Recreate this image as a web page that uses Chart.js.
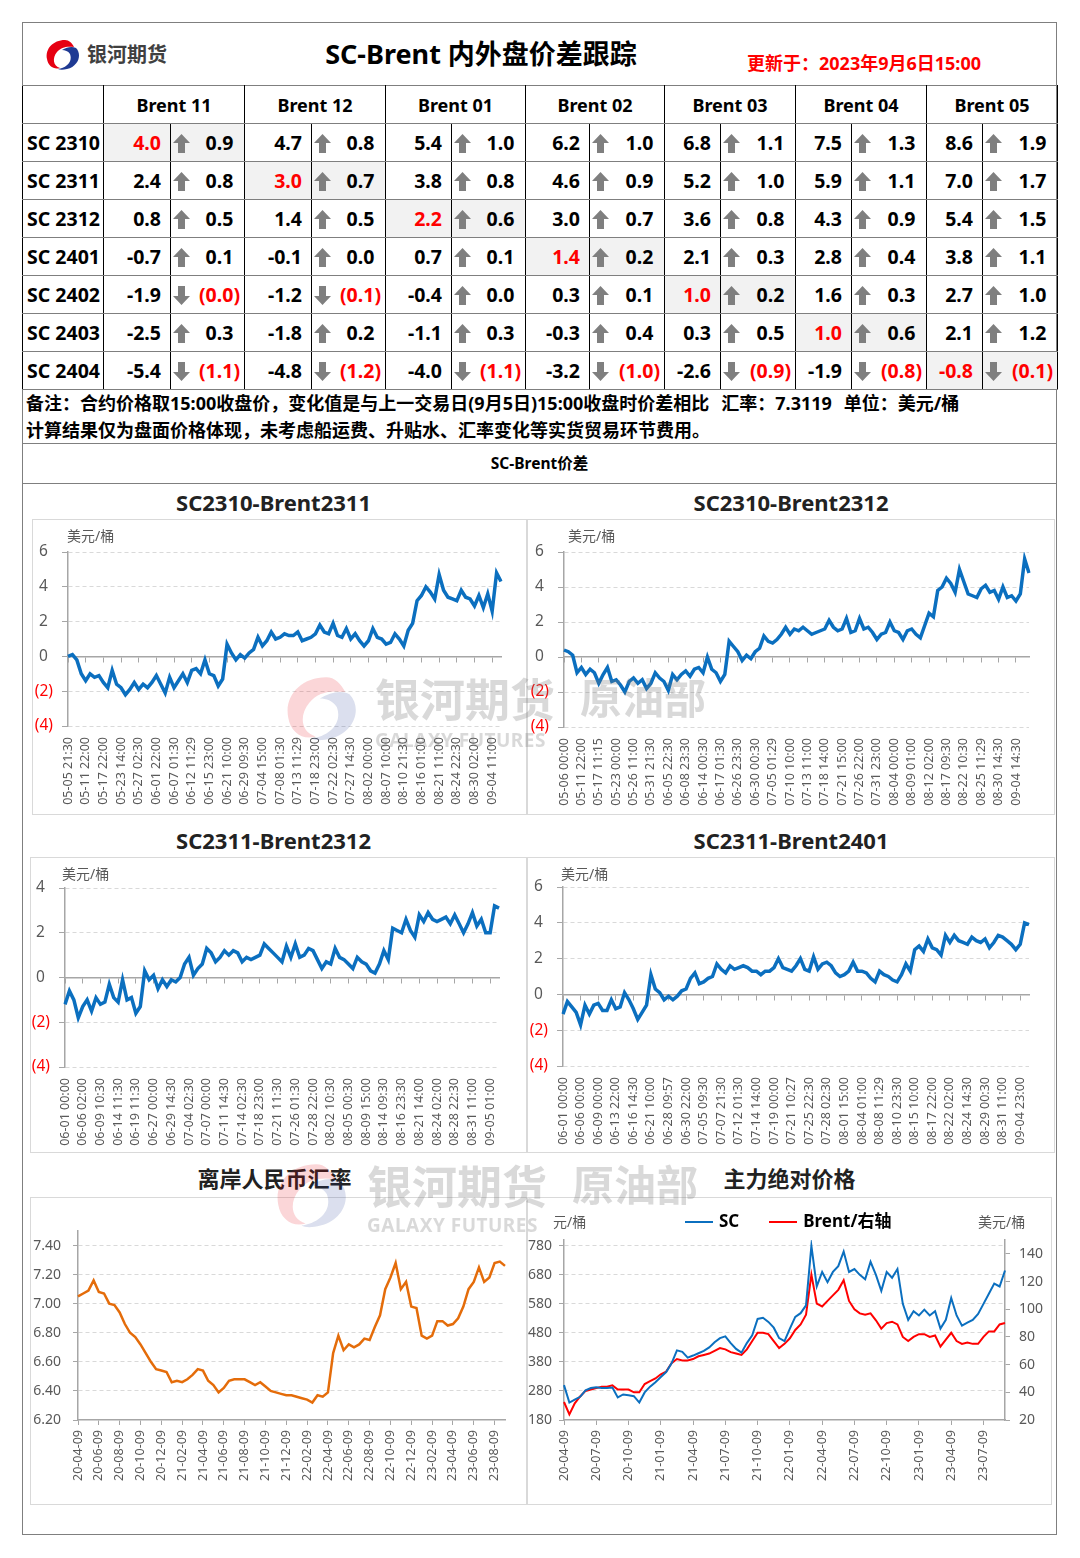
<!DOCTYPE html>
<html lang="zh-CN">
<head>
<meta charset="UTF-8">
<title>SC-Brent 内外盘价差跟踪</title>
<script src="https://cdn.jsdelivr.net/npm/chart.js"></script>
<style>
  body { margin: 0; background: #fff; font-family: "Noto Sans", "Noto Sans CJK SC", sans-serif; }
  #page { position: relative; width: 1080px; height: 1558px; }
  .abs { position: absolute; }
  .frame { left: 22px; top: 22px; width: 1035px; height: 1513px; border: 1px solid #7f7f7f; box-sizing: border-box; }
  .brand { font-size: 20px; font-weight: 700; color: #404040; line-height: 30px; }
  .title { font-size: 27px; font-weight: 700; color: #000; line-height: 36px; text-align: center; }
  .update { font-size: 18px; font-weight: 700; color: #ff0000; line-height: 24px; }
  #grid { border-collapse: collapse; table-layout: fixed; width: 1035px; font-size: 19.5px; font-weight: 700; color: #000; }
  #grid th { font-size: 18px; }
  #grid th, #grid td { height: 38px; padding: 0; border-top: 1px solid #7f7f7f; border-bottom: 1px solid #7f7f7f;
                       border-left: 1px solid #000; border-right: 1px solid #000; box-sizing: border-box; }
  #grid td.rh { text-align: left; padding-left: 4px; }
  #grid td.v { text-align: right; padding-right: 9px; }
  #grid td.c { position: relative; text-align: right; padding-right: 4px; }
  #grid td.c svg { position: absolute; left: 2px; top: 10px; }
  #grid .hl { background: #f2f2f2; }
  #grid .red { color: #ff0000; }
  #grid i { font-style: normal; visibility: hidden; }
  .notes { left: 22px; top: 390px; width: 1035px; height: 53px; box-sizing: border-box; padding-left: 4px;
           font-size: 18px; font-weight: 700; line-height: 27px; color: #000; }
  .notes .gap { display: inline-block; width: 12px; }
  .sub { left: 22px; top: 443px; width: 1035px; height: 41px; box-sizing: border-box; border-top: 1px solid #7f7f7f;
         border-bottom: 1px solid #7f7f7f; text-align: center; font-size: 15.5px; font-weight: 700; line-height: 38px; }
  .ctitle { font-size: 22px; font-weight: 700; color: #222; text-align: center; line-height: 24px; }
  .box { border: 1px solid #d9d9d9; box-sizing: border-box; }
  .unit { font-size: 14px; color: #595959; line-height: 16px; }
  .legend { left: 685px; top: 1210px; font-size: 17px; font-weight: 700; line-height: 22px; white-space: nowrap; }
  .legend span { display: inline-block; margin-right: 30px; }
  .legend b { display: inline-block; width: 28px; height: 2px; vertical-align: middle; margin-right: 6px; }
  .wm { position: absolute; z-index: 5; pointer-events: none; color: rgba(120,120,120,0.28); font-weight: 700; line-height: 1; }
</style>
</head>
<body>
<div id="page">
  <div class="abs frame"></div>

  <svg class="abs" style="left:45px;top:39px" width="36" height="32" viewBox="0 0 36 32">
    <path d="M20 1 C8 1 0 10 2 20 C3 27 9 31 15 29 C8 27 7 19 12 13 C16 8 22 7 29 8 C27 4 24 1 20 1 Z" fill="#e60012"/>
    <path d="M31 9 C37 15 34 27 22 30 C18 31 15 31 13 30 C21 29 28 23 25 15 C23 12 20 11 17 11 C22 8 27 7 31 9 Z" fill="#1f3a93"/>
  </svg>
  <div class="abs brand" style="left:87px;top:40px">银河期货</div>
  <div class="abs title" style="left:0;width:962px;top:36px">SC-Brent 内外盘价差跟踪</div>
  <div class="abs update" style="left:747px;top:51px">更新于：2023年9月6日15:00</div>

  <table id="grid" class="abs" style="left:22px;top:85px">
    <colgroup>
      <col style="width:81px">
      <col style="width:67px"><col style="width:74px">
      <col style="width:67px"><col style="width:74px">
      <col style="width:66px"><col style="width:74px">
      <col style="width:64px"><col style="width:75px">
      <col style="width:56px"><col style="width:75px">
      <col style="width:56px"><col style="width:75px">
      <col style="width:56px"><col style="width:75px">
    </colgroup>
    <tbody id="gridBody"></tbody>
  </table>

  <div class="abs notes">备注：合约价格取15:00收盘价，变化值是与上一交易日(9月5日)15:00收盘时价差相比<span class="gap"></span>汇率：7.3119<span class="gap"></span>单位：美元/桶<br>计算结果仅为盘面价格体现，未考虑船运费、升贴水、汇率变化等实货贸易环节费用。</div>
  <div class="abs sub">SC-Brent价差</div>

  <div class="abs ctitle" style="left:26px;width:495px;top:490px">SC2310-Brent2311</div>
  <div class="abs ctitle" style="left:527px;width:528px;top:490px">SC2310-Brent2312</div>
  <div class="abs ctitle" style="left:26px;width:495px;top:828px">SC2311-Brent2312</div>
  <div class="abs ctitle" style="left:527px;width:528px;top:828px">SC2311-Brent2401</div>
  <div class="abs ctitle" style="left:27px;width:495px;top:1166px">离岸人民币汇率</div>
  <div class="abs ctitle" style="left:527px;width:525px;top:1166px">主力绝对价格</div>

  <div class="abs box" style="left:32px;top:519px;width:495px;height:296px"></div>
  <div class="abs box" style="left:527px;top:519px;width:528px;height:296px"></div>
  <div class="abs box" style="left:30px;top:857px;width:497px;height:296px"></div>
  <div class="abs box" style="left:527px;top:857px;width:528px;height:296px"></div>
  <div class="abs box" style="left:30px;top:1197px;width:497px;height:308px"></div>
  <div class="abs box" style="left:527px;top:1197px;width:525px;height:308px"></div>

  <div class="abs" style="left:32px;top:519px;width:495px;height:296px"><canvas id="c1"></canvas></div>
  <div class="abs" style="left:527px;top:519px;width:528px;height:296px"><canvas id="c2"></canvas></div>
  <div class="abs" style="left:30px;top:857px;width:495px;height:296px"><canvas id="c3"></canvas></div>
  <div class="abs" style="left:527px;top:857px;width:528px;height:296px"><canvas id="c4"></canvas></div>
  <div class="abs" style="left:30px;top:1197px;width:495px;height:308px"><canvas id="c5"></canvas></div>
  <div class="abs" style="left:527px;top:1197px;width:525px;height:308px"><canvas id="c6"></canvas></div>

  <div class="abs unit" style="left:67px;top:528px">美元/桶</div>
  <div class="abs unit" style="left:568px;top:528px">美元/桶</div>
  <div class="abs unit" style="left:62px;top:866px">美元/桶</div>
  <div class="abs unit" style="left:561px;top:866px">美元/桶</div>
  <div class="abs unit" style="left:553px;top:1214px">元/桶</div>
  <div class="abs unit" style="left:978px;top:1214px">美元/桶</div>
  <div class="abs legend" id="lg6"></div>

  <!-- watermarks -->
  <svg class="wm" style="left:284px;top:668px;opacity:0.16" width="76" height="82" viewBox="0 0 36 32">
    <path d="M20 1 C8 1 0 10 2 20 C3 27 9 31 15 29 C8 27 7 19 12 13 C16 8 22 7 29 8 C27 4 24 1 20 1 Z" fill="#e60012"/>
    <path d="M31 9 C37 15 34 27 22 30 C18 31 15 31 13 30 C21 29 28 23 25 15 C23 12 20 11 17 11 C22 8 27 7 31 9 Z" fill="#1f3a93"/>
  </svg>
  <div class="wm" style="left:375px;top:677px;font-size:45px">银河期货</div>
  <div class="wm" style="left:580px;top:677px;font-size:42px">原油部</div>
  <div class="wm" style="left:375px;top:731px;font-size:19px;letter-spacing:0.5px">GALAXY FUTURES</div>
  <svg class="wm" style="left:274px;top:1156px;opacity:0.16" width="76" height="80" viewBox="0 0 36 32">
    <path d="M20 1 C8 1 0 10 2 20 C3 27 9 31 15 29 C8 27 7 19 12 13 C16 8 22 7 29 8 C27 4 24 1 20 1 Z" fill="#e60012"/>
    <path d="M31 9 C37 15 34 27 22 30 C18 31 15 31 13 30 C21 29 28 23 25 15 C23 12 20 11 17 11 C22 8 27 7 31 9 Z" fill="#1f3a93"/>
  </svg>
  <div class="wm" style="left:367px;top:1164px;font-size:45px">银河期货</div>
  <div class="wm" style="left:572px;top:1164px;font-size:42px">原油部</div>
  <div class="wm" style="left:367px;top:1216px;font-size:19px;letter-spacing:0.5px">GALAXY FUTURES</div>
</div>

<script>
// ---- table data ----
const scRows = ['SC 2310', 'SC 2311', 'SC 2312', 'SC 2401', 'SC 2402', 'SC 2403', 'SC 2404'];
const brentCols = ['Brent 11', 'Brent 12', 'Brent 01', 'Brent 02', 'Brent 03', 'Brent 04', 'Brent 05'];
const spreadTable = [
  [4.0, 4.7, 5.4, 6.2, 6.8, 7.5, 8.6],
  [2.4, 3.0, 3.8, 4.6, 5.2, 5.9, 7.0],
  [0.8, 1.4, 2.2, 3.0, 3.6, 4.3, 5.4],
  [-0.7, -0.1, 0.7, 1.4, 2.1, 2.8, 3.8],
  [-1.9, -1.2, -0.4, 0.3, 1.0, 1.6, 2.7],
  [-2.5, -1.8, -1.1, -0.3, 0.3, 1.0, 2.1],
  [-5.4, -4.8, -4.0, -3.2, -2.6, -1.9, -0.8]
];
const changeTable = [
  [0.9, 0.8, 1.0, 1.0, 1.1, 1.3, 1.9],
  [0.8, 0.7, 0.8, 0.9, 1.0, 1.1, 1.7],
  [0.5, 0.5, 0.6, 0.7, 0.8, 0.9, 1.5],
  [0.1, 0.0, 0.1, 0.2, 0.3, 0.4, 1.1],
  [-0.0, -0.1, 0.0, 0.1, 0.2, 0.3, 1.0],
  [0.3, 0.2, 0.3, 0.4, 0.5, 0.6, 1.2],
  [-1.1, -1.2, -1.1, -1.0, -0.9, -0.8, -0.1]
];

// ---- spread charts ----
const spread1Cats = ['05-05 21:30', '05-11 22:00', '05-17 22:00', '05-23 14:00', '05-27 02:30', '06-01 22:00', '06-07 01:30',
  '06-12 11:29', '06-15 23:00', '06-21 10:00', '06-29 09:30', '07-04 15:00', '07-08 01:30', '07-13 11:29', '07-18 23:00',
  '07-22 02:30', '07-27 14:30', '08-02 00:00', '08-07 10:00', '08-10 21:30', '08-16 01:00', '08-21 11:00', '08-24 22:30',
  '08-30 02:00', '09-04 11:00'];
const spread1Vals = [0.0, 0.1, -0.2, -1.0, -1.4, -1.0, -1.2, -1.1, -1.5, -1.8,
  -0.8, -1.6, -1.8, -2.2, -1.9, -1.5, -1.9, -1.6, -1.8, -1.5,
  -1.1, -1.6, -2.1, -1.2, -1.8, -1.4, -1.0, -1.5, -0.8, -0.7,
  -1.0, -0.2, -1.0, -1.1, -1.7, -1.3, 0.7, 0.2, -0.2, 0.1,
  -0.1, 0.2, 0.4, 1.1, 0.6, 0.9, 1.4, 1.0, 1.1, 1.3,
  1.2, 1.2, 1.4, 0.9, 1.0, 1.1, 1.3, 1.8, 1.4, 1.3,
  1.9, 1.2, 1.1, 1.6, 1.0, 1.3, 0.9, 0.6, 0.9, 1.6,
  1.1, 1.0, 0.7, 0.8, 1.3, 1.0, 0.6, 1.5, 1.9, 3.2,
  3.5, 4.0, 3.7, 3.3, 4.7, 3.8, 3.4, 3.3, 3.2, 3.8,
  3.4, 3.3, 2.9, 3.5, 2.8, 3.6, 2.6, 4.8, 4.3];

const spread2Cats = ['05-06 00:00', '05-11 22:00', '05-17 11:15', '05-23 00:00', '05-26 11:00', '05-31 21:30', '06-05 22:30',
  '06-08 23:30', '06-14 00:30', '06-17 01:30', '06-26 23:30', '06-30 00:30', '07-05 01:29', '07-10 10:00', '07-13 11:00',
  '07-18 14:00', '07-21 15:00', '07-26 22:00', '07-31 23:00', '08-04 00:00', '08-09 01:00', '08-12 02:00', '08-17 09:30',
  '08-22 10:30', '08-25 11:29', '08-30 14:30', '09-04 14:30'];
const spread2Vals = [0.4, 0.3, 0.1, -0.9, -0.6, -1.0, -0.7, -0.9, -1.5, -1.0,
  -0.6, -1.4, -1.3, -1.6, -2.0, -1.4, -1.2, -1.5, -1.3, -1.8,
  -1.5, -0.9, -1.2, -1.4, -1.9, -1.0, -1.3, -1.0, -0.8, -1.1,
  -0.7, -0.6, -0.9, 0.0, -0.7, -0.9, -1.4, -1.0, 0.9, 0.6,
  0.3, -0.2, 0.1, -0.1, 0.3, 0.5, 1.2, 0.9, 0.8, 1.0,
  1.3, 1.7, 1.3, 1.6, 1.5, 1.7, 1.5, 1.3, 1.4, 1.5,
  1.6, 2.1, 1.7, 1.5, 1.6, 2.2, 1.4, 1.5, 2.2, 1.6,
  1.7, 1.4, 1.0, 1.3, 1.4, 2.0, 1.5, 1.4, 1.0, 1.5,
  1.6, 1.3, 1.1, 1.8, 2.5, 2.3, 3.8, 4.0, 4.5, 4.2,
  3.7, 5.0, 4.3, 3.6, 3.5, 3.4, 3.9, 4.1, 3.7, 3.8,
  3.3, 4.0, 3.4, 3.5, 3.2, 3.6, 5.6, 4.8];

const spread3Cats = ['06-01 00:00', '06-06 02:00', '06-09 10:30', '06-14 11:30', '06-19 11:30', '06-27 00:00', '06-29 14:30',
  '07-04 02:30', '07-07 00:00', '07-11 14:30', '07-14 02:30', '07-18 23:00', '07-21 11:30', '07-26 01:30', '07-28 22:00',
  '08-02 10:30', '08-05 00:30', '08-09 15:00', '08-14 09:30', '08-16 23:30', '08-21 14:00', '08-24 02:00', '08-28 22:30',
  '08-31 11:00', '09-05 01:00'];
const spread3Vals = [-1.2, -0.6, -1.0, -1.8, -1.3, -1.0, -1.5, -0.9, -1.2, -1.1,
  -0.3, -0.9, -1.1, -0.1, -1.0, -0.9, -1.6, -1.3, 0.3, -0.1,
  0.1, -0.5, -0.1, -0.4, -0.1, -0.2, 0.0, 0.6, 0.9, 0.1,
  0.4, 0.6, 1.3, 1.1, 0.7, 0.9, 1.2, 1.0, 1.2, 1.1,
  0.7, 0.9, 0.8, 0.9, 1.0, 1.5, 1.3, 1.1, 0.9, 0.7,
  1.4, 0.9, 1.5, 0.9, 1.0, 1.3, 1.2, 0.8, 0.4, 0.7,
  0.6, 1.3, 0.9, 0.8, 0.6, 0.4, 0.9, 0.7, 0.6, 0.3,
  0.2, 0.6, 1.2, 0.8, 2.2, 2.1, 2.0, 2.6, 2.1, 1.8,
  2.8, 2.5, 2.9, 2.6, 2.5, 2.6, 2.7, 2.4, 2.8, 2.4,
  2.0, 2.4, 2.9, 2.3, 2.6, 2.0, 2.0, 3.2, 3.1];

const spread4Cats = ['06-01 00:00', '06-06 00:00', '06-09 00:00', '06-13 22:00', '06-16 14:30', '06-21 10:00', '06-28 09:57',
  '06-30 22:00', '07-05 09:30', '07-07 21:30', '07-12 01:30', '07-14 14:00', '07-19 00:00', '07-21 10:27', '07-25 22:30',
  '07-28 02:30', '08-01 15:00', '08-04 01:00', '08-08 11:29', '08-10 23:30', '08-15 10:00', '08-17 22:00', '08-22 02:00',
  '08-24 14:30', '08-29 00:30', '08-31 11:00', '09-04 23:00'];
const spread4Vals = [-1.1, -0.4, -0.7, -1.0, -1.7, -0.6, -1.1, -0.6, -0.5, -0.9,
  -0.9, -0.3, -0.8, -0.7, 0.1, -0.3, -0.8, -1.4, -1.0, -0.6,
  1.1, 0.3, 0.1, -0.3, -0.1, -0.3, -0.1, 0.2, 0.3, 0.9,
  1.2, 0.6, 0.7, 0.9, 1.0, 1.7, 1.4, 1.2, 1.6, 1.4,
  1.5, 1.6, 1.5, 1.3, 1.3, 1.1, 1.3, 1.3, 1.5, 2.0,
  1.5, 1.4, 1.3, 1.6, 2.0, 1.4, 1.3, 2.1, 1.4, 1.7,
  1.8, 1.6, 1.2, 1.0, 1.1, 1.3, 1.8, 1.3, 1.3, 1.2,
  0.9, 0.7, 1.3, 1.1, 1.0, 0.8, 0.7, 1.1, 1.7, 1.3,
  2.5, 2.7, 2.4, 3.1, 2.6, 2.5, 2.2, 3.3, 2.9, 3.3,
  3.0, 2.9, 2.8, 3.2, 3.0, 2.9, 3.1, 2.6, 2.9, 3.3,
  3.2, 3.0, 2.8, 2.5, 2.8, 4.0, 3.9];

// ---- offshore CNY ----
const fxCats = ['20-04-09', '20-06-09', '20-08-09', '20-10-09', '20-12-09', '21-02-09', '21-04-09', '21-06-09', '21-08-09',
  '21-10-09', '21-12-09', '22-02-09', '22-04-09', '22-06-09', '22-08-09', '22-10-09', '22-12-09', '23-02-09', '23-04-09',
  '23-06-09', '23-08-09'];
const fxVals = [7.05, 7.07, 7.09, 7.16, 7.08, 7.07, 7.00, 6.99, 6.94, 6.86,
  6.80, 6.77, 6.72, 6.66, 6.60, 6.55, 6.54, 6.53, 6.46, 6.47,
  6.46, 6.48, 6.51, 6.55, 6.54, 6.47, 6.44, 6.39, 6.42, 6.47,
  6.48, 6.48, 6.48, 6.46, 6.44, 6.46, 6.43, 6.40, 6.39, 6.38,
  6.37, 6.37, 6.36, 6.35, 6.34, 6.32, 6.37, 6.36, 6.39, 6.66,
  6.78, 6.68, 6.72, 6.70, 6.72, 6.76, 6.75, 6.84, 6.92, 7.10,
  7.18, 7.28, 7.10, 7.15, 6.98, 6.97, 6.78, 6.76, 6.78, 6.88,
  6.88, 6.85, 6.86, 6.90, 6.98, 7.10, 7.15, 7.25, 7.15, 7.18,
  7.28, 7.29, 7.26];
const fxTicks = [6.2, 6.4, 6.6, 6.8, 7.0, 7.2, 7.4];

// ---- main contract prices ----
const priceCats = ['20-04-09', '20-07-09', '20-10-09', '21-01-09', '21-04-09', '21-07-09', '21-10-09', '22-01-09',
  '22-04-09', '22-07-09', '22-10-09', '23-01-09', '23-04-09', '23-07-09'];
const scVals = [300, 240, 250, 260, 282, 290, 293, 290, 290, 292,
  258, 268, 265, 262, 240, 275, 295, 310, 328, 345,
  375, 420, 415, 395, 402, 410, 418, 430, 448, 462,
  468, 445, 425, 412, 445, 472, 528, 532, 518, 498,
  462, 452, 495, 535, 548, 575, 780, 640, 690, 655,
  690, 710, 760, 690, 700, 680, 665, 725, 680, 625,
  690, 670, 700, 580, 525, 555, 540, 560, 540, 555,
  495, 525, 600, 540, 505, 515, 525, 545, 580, 615,
  650, 640, 695];
const brentVals = [33, 24, 32, 37, 41, 42, 43, 44, 44, 45,
  42, 42, 42, 40, 40, 46, 48, 50, 53, 55,
  61, 64, 63, 63, 64, 66, 67, 68, 70, 72,
  71, 69, 68, 67, 71, 77, 83, 83, 82, 77,
  72, 75, 79, 85, 89, 96, 125, 104, 102, 106,
  110, 114, 121, 106, 100, 97, 96, 97, 92, 86,
  90, 91, 89, 80, 77, 80, 82, 82, 80, 81,
  73, 78, 83, 77, 75, 76, 75, 75, 80, 84,
  84, 89, 90];
const scTicks = [180, 280, 380, 480, 580, 680, 780];
const brentTicks = [20, 40, 60, 80, 100, 120, 140];

// ---- styling ----
const BLUE = '#0b6fbf', ORANGE = '#e46c0a', RED = '#ff0000';
const AXIS = '#a6a6a6', GRID = '#d9d9d9', TXT = '#595959';
Chart.defaults.font.family = '"Noto Sans", "Noto Sans CJK SC", sans-serif';
Chart.defaults.animation = false;

// table
const ARROW_UP = '<svg width="17" height="19" viewBox="0 0 17 19"><path d="M8.5 0 L17 9 L12 9 L12 19 L5 19 L5 9 L0 9 Z" fill="#7f7f7f"/></svg>';
const ARROW_DN = '<svg width="17" height="19" viewBox="0 0 17 19"><path d="M8.5 19 L17 10 L12 10 L12 0 L5 0 L5 10 L0 10 Z" fill="#7f7f7f"/></svg>';
let html = '<tr><th></th>' + brentCols.map(c => `<th colspan="2">${c}</th>`).join('') + '</tr>';
scRows.forEach((r, i) => {
  html += `<tr><td class="rh">${r}</td>`;
  brentCols.forEach((c, j) => {
    const hl = i === j ? ' hl' : '';
    const d = changeTable[i][j];
    const neg = d < 0 || Object.is(d, -0);
    const txt = neg ? `(${Math.abs(d).toFixed(1)})` : `${d.toFixed(1)}<i>)</i>`;
    html += `<td class="v${hl}${i === j ? ' red' : ''}">${spreadTable[i][j].toFixed(1)}</td>`;
    html += `<td class="c${hl}${neg ? ' red' : ''}">${neg ? ARROW_DN : ARROW_UP}${txt}</td>`;
  });
  html += '</tr>';
});
document.getElementById('gridBody').innerHTML = html;

// one label every `step` points, blanks in between
function sparseLabels(cats, n, step) {
  const out = [];
  for (let i = 0; i < n; i++) out.push(i % step === 0 && cats[i / step] ? cats[i / step] : '');
  return out;
}

function xAxis(labels, h, padding, withTicks) {
  return {
    grid: withTicks
      ? { drawOnChartArea: false, tickLength: 5, tickColor: c => labels[c.index] ? AXIS : 'transparent' }
      : { drawOnChartArea: false, drawTicks: false },
    border: withTicks ? { color: AXIS, width: 1.5 } : { display: false },
    ticks: { autoSkip: false, minRotation: 90, maxRotation: 90, padding: padding, color: TXT, font: { size: 12.5 } },
    afterFit: s => { s.height = h; }
  };
}

function spreadChart(id, cats, vals, yMin, yMax, geo) {
  const labels = sparseLabels(cats, vals.length, 4);
  return new Chart(document.getElementById(id), {
    type: 'line',
    data: { labels: labels, datasets: [{ data: vals, borderColor: BLUE, borderWidth: 3.5, pointRadius: 0, tension: 0 }] },
    options: {
      responsive: true, maintainAspectRatio: false,
      layout: { padding: { left: 0, top: geo.top, right: geo.right, bottom: 5 } },
      plugins: { legend: { display: false }, tooltip: { enabled: false } },
      scales: {
        x: xAxis(labels, geo.xh, 11, false),
        x0: {
          type: 'category', position: { y: 0 },
          grid: { drawOnChartArea: false, tickLength: 5, tickColor: c => labels[c.index] ? AXIS : 'transparent' },
          border: { color: AXIS, width: 1.5 }, ticks: { display: false }
        },
        y: {
          min: yMin, max: yMax,
          ticks: {
            stepSize: 2, padding: 9, font: { size: 15.5 },
            color: c => c.tick.value < 0 ? RED : TXT,
            callback: v => v < 0 ? '(' + (-v) + ')' : v + '\u2004'
          },
          grid: { color: c => c.tick.value === 0 ? 'transparent' : GRID, tickColor: AXIS, tickLength: 6 },
          border: { color: AXIS, width: 1.5, dash: [4, 3] },
          afterFit: s => { s.width = geo.yw; }
        }
      }
    }
  });
}

spreadChart('c1', spread1Cats, spread1Vals, -4, 6, { yw: 36, top: 33, right: 9, xh: 84 });
spreadChart('c2', spread2Cats, spread2Vals, -4, 6, { yw: 37, top: 33, right: 18, xh: 83 });
spreadChart('c3', spread3Cats, spread3Vals, -4, 4, { yw: 35, top: 31, right: 8, xh: 81 });
spreadChart('c4', spread4Cats, spread4Vals, -4, 6, { yw: 36, top: 30, right: 16, xh: 82 });

// offshore CNY
const fxLabels = sparseLabels(fxCats, fxVals.length, 4);
new Chart(document.getElementById('c5'), {
  type: 'line',
  data: { labels: fxLabels, datasets: [{ data: fxVals, borderColor: ORANGE, borderWidth: 2.5, pointRadius: 0, tension: 0 }] },
  options: {
    responsive: true, maintainAspectRatio: false,
    layout: { padding: { left: 0, top: 34, right: 2, bottom: 5 } },
    plugins: { legend: { display: false }, tooltip: { enabled: false } },
    scales: {
      x: xAxis(fxLabels, 80, 5, true),
      y: {
        min: 6.2, max: 7.5,
        afterBuildTicks: s => { s.ticks = fxTicks.map(v => ({ value: v })); },
        ticks: { padding: 12, font: { size: 14 }, color: TXT, callback: v => v.toFixed(2) },
        grid: { color: c => c.tick.value <= 6.2 ? 'transparent' : GRID, tickColor: AXIS, tickLength: 5 },
        border: { color: AXIS, width: 1.5, dash: [4, 3] },
        afterFit: s => { s.width = 48; }
      }
    }
  }
});

// main contract prices
const priceLabels = sparseLabels(priceCats, scVals.length, 6);
const priceChart = new Chart(document.getElementById('c6'), {
  type: 'line',
  data: {
    labels: priceLabels,
    datasets: [
      { label: 'SC', data: scVals, borderColor: BLUE, borderWidth: 2, pointRadius: 0, tension: 0, yAxisID: 'y' },
      { label: 'Brent/右轴', data: brentVals, borderColor: RED, borderWidth: 2, pointRadius: 0, tension: 0, yAxisID: 'y1' }
    ]
  },
  options: {
    responsive: true, maintainAspectRatio: false,
    layout: { padding: { left: 0, top: 43, right: 0, bottom: 5 } },
    plugins: { legend: { display: false }, tooltip: { enabled: false } },
    scales: {
      x: xAxis(priceLabels, 80, 5, true),
      y: {
        min: 180, max: 800,
        afterBuildTicks: s => { s.ticks = scTicks.map(v => ({ value: v })); },
        ticks: { padding: 7, font: { size: 14 }, color: TXT },
        grid: { color: c => c.tick.value <= 180 ? 'transparent' : GRID, tickColor: AXIS, tickLength: 5 },
        border: { color: AXIS, width: 1.5, dash: [4, 3] },
        afterFit: s => { s.width = 37; }
      },
      y1: {
        position: 'right', min: 20, max: 150,
        afterBuildTicks: s => { s.ticks = brentTicks.map(v => ({ value: v })); },
        ticks: { padding: 9, font: { size: 14 }, color: TXT },
        grid: { drawOnChartArea: false, tickColor: AXIS, tickLength: 5 },
        border: { color: AXIS, width: 1.5 },
        afterFit: s => { s.width = 47; }
      }
    }
  }
});

// legend built from the chart's datasets
const lg = document.getElementById('lg6');
priceChart.data.datasets.forEach(ds => {
  lg.insertAdjacentHTML('beforeend', `<span><b style="background:${ds.borderColor}"></b>${ds.label}</span>`);
});
</script>
</body>
</html>
